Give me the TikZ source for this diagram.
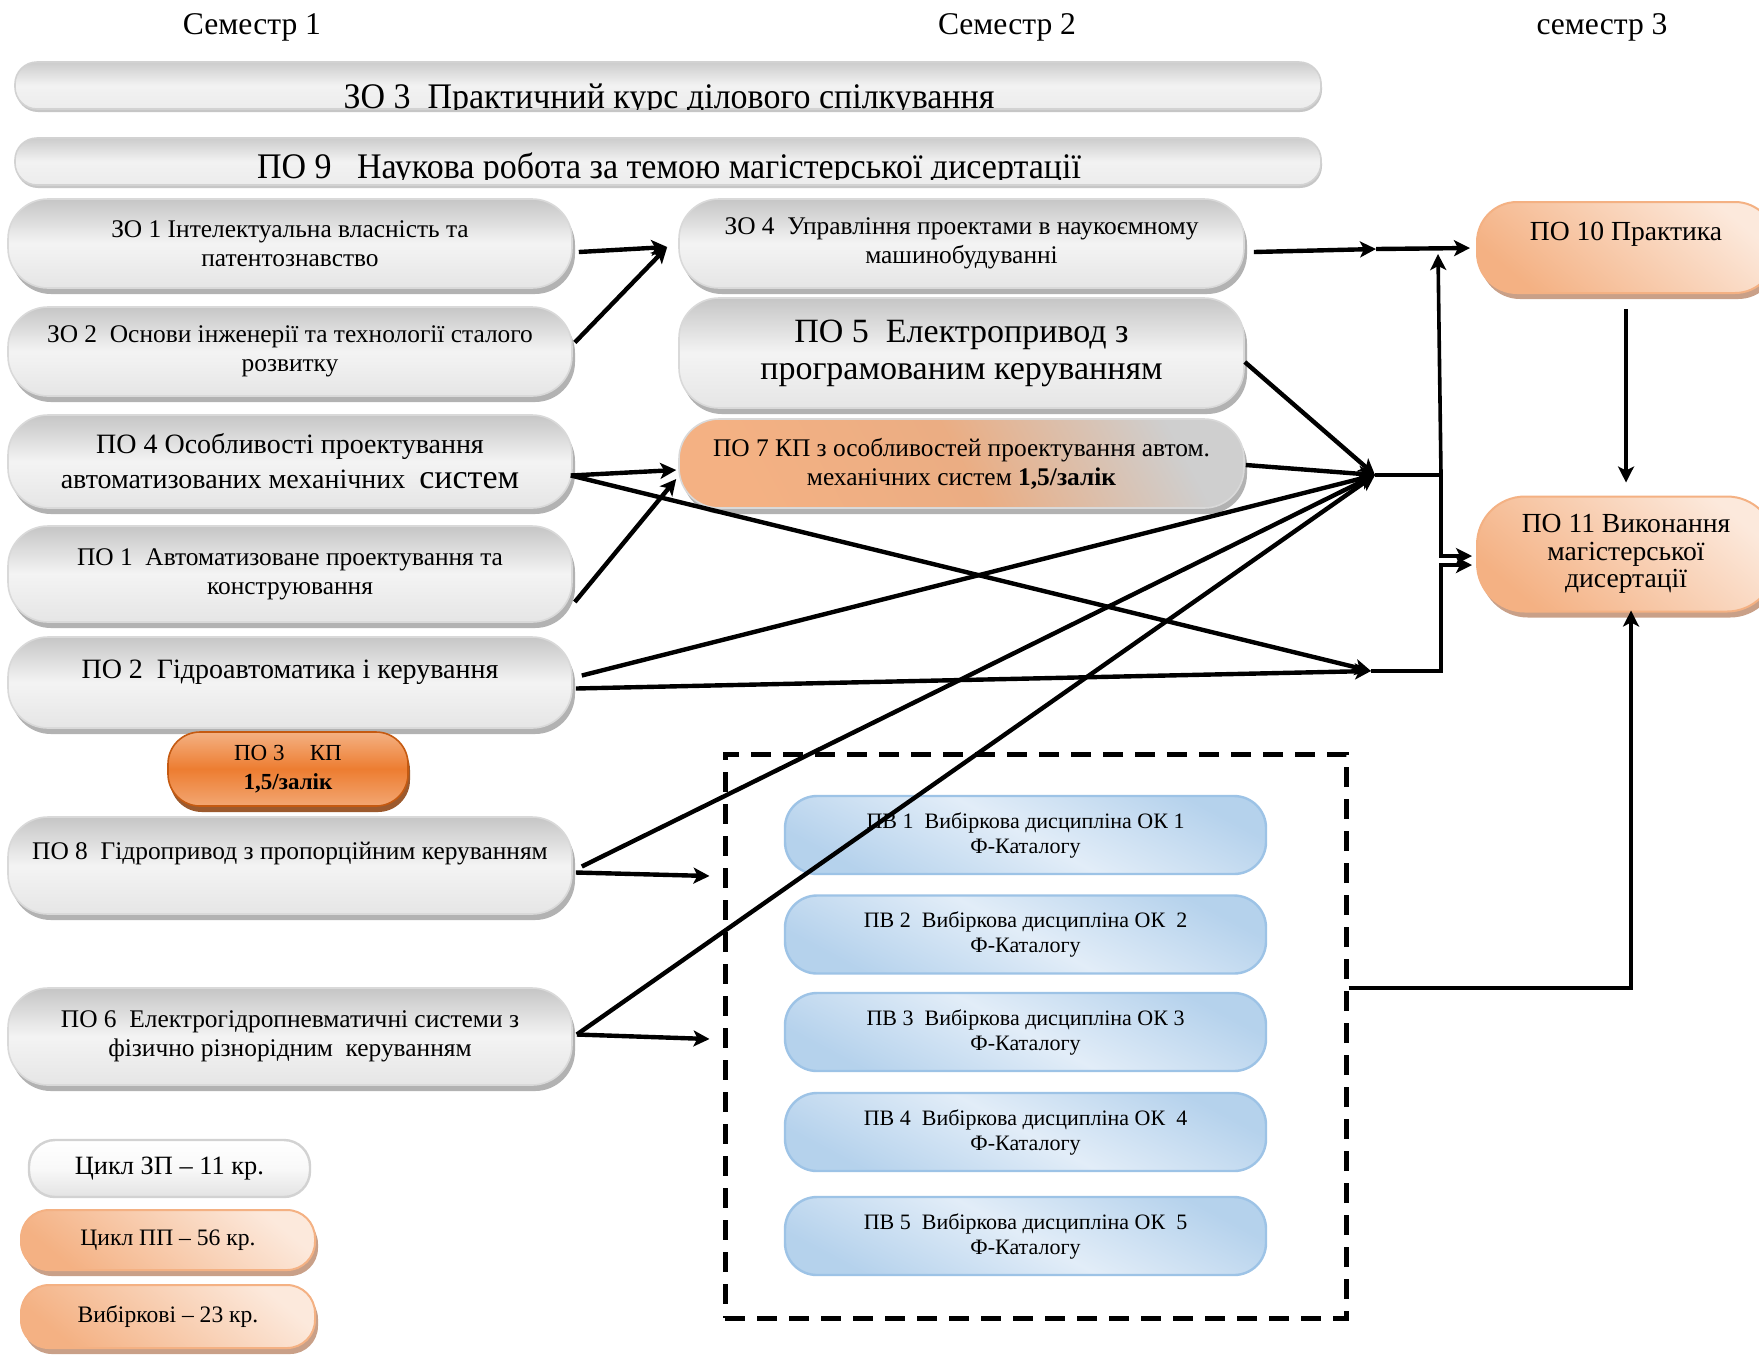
\documentclass[tikz,border=0pt]{standalone}
\usepackage{fontspec}
\setmainfont{Liberation Serif}
\newfontfamily\barfont[FakeStretch=0.944]{Liberation Serif}
\usetikzlibrary{shadows,arrows.meta,calc}
\newcommand\fsz[2]{\fontsize{#1}{#2}\selectfont}
\definecolor{orE}{HTML}{F4B183}
\definecolor{orL}{HTML}{FCE9DC}
\definecolor{orS}{HTML}{ED7D31}
\definecolor{orB}{HTML}{C55A11}
\definecolor{orD}{HTML}{9C5A2E}
\definecolor{blD}{HTML}{9DC3E6}
\definecolor{blL}{HTML}{E2EDF8}
\definecolor{shO}{HTML}{C9A088}
\begin{document}
\begin{tikzpicture}[x=0.5pt,y=-0.5pt,
  base/.style={inner sep=0pt, align=center, text=black},
  graybox/.style={base, rounded corners=20pt, draw=gray!30, line width=0.8pt,
     top color=gray!45, bottom color=gray!20, middle color=gray!9,
     drop shadow={shadow xshift=1.5pt, shadow yshift=-3pt, fill=gray!60, opacity=1}},
  barbox/.style={base, rounded corners=11pt, draw=gray!35, line width=0.8pt,
     top color=gray!40, bottom color=gray!15, middle color=gray!10,
     drop shadow={shadow xshift=0.5pt, shadow yshift=-1.5pt, fill=gray!45, opacity=1}},
  peach/.style={base, rounded corners=20pt, draw=orE, line width=1pt,
     top color=orL, bottom color=orE, shading angle=-40,
     drop shadow={shadow xshift=1.5pt, shadow yshift=-3pt, fill=shO, opacity=1}},
  po3box/.style={base, rounded corners=16pt, draw=orB, line width=0.8pt,
     top color=orE, bottom color=orE!80!orS, middle color=orS,
     drop shadow={shadow xshift=1pt, shadow yshift=-3pt, fill=orD, opacity=1}},
  po7box/.style={base, rounded corners=20pt, draw=gray!30, line width=0.8pt,
     top color=gray!38, bottom color=orE, middle color=orE!92!gray, shading angle=-62,
     drop shadow={shadow xshift=1.5pt, shadow yshift=-3pt, fill=gray!60, opacity=1}},
  bluebox/.style={base, rounded corners=16pt, draw=blD, line width=1.2pt,
     top color=blD!75!white, bottom color=blD!75!white, middle color=blL, shading angle=-28},
  lgw/.style={base, rounded corners=13pt, draw=gray!35, line width=1.2pt,
     top color=white, bottom color=gray!22, middle color=gray!5},
  hdr/.style={font=\fsz{15.8}{18}},
  fsA/.style={font=\fsz{12.7}{14.5}},
  fsB/.style={font=\fsz{14}{17.5}},
  fsC/.style={font=\fsz{11}{12.5}},
  fsD/.style={font=\fsz{13.8}{16}},
  fsL/.style={font=\fsz{11.8}{14}},
  arr/.style={line width=2.2pt, -{Stealth[length=8pt,width=8pt,inset=2pt]}},
  arrR/.style={line width=1.8pt, -{Stealth[length=8pt,width=8pt,inset=2pt]}}
]
\clip (0,0) rectangle (1759,1356);
\fill[white] (0,0) rectangle (1759,1356);

% headings
\node[hdr] (s1) at (252,27.5) {Семестр 1};
\node[hdr] (s2) at (1007,27.5) {Семестр 2};
\node[hdr] (s3) at (1602,27.5) {семестр 3};

% bars
\node[barbox, minimum width=653pt, minimum height=23.5pt] (zo3) at (668,85.5) {};
\node[barbox, minimum width=653pt, minimum height=23.5pt] (po9) at (668,161.5) {};
\begin{scope}
\clip[rounded corners=11pt] (zo3.north west) rectangle ($(zo3.south east)+(0,-0.5)$);
\node[anchor=base, font=\barfont\fsz{18}{20}] (zo3t) at (669,108) {ЗО 3\ \ Практичний курс ділового спілкування};
\end{scope}
\begin{scope}
\clip[rounded corners=11pt] (po9.north west) rectangle ($(po9.south east)+(0,-6.5)$);
\node[anchor=base, font=\barfont\fsz{18}{20}] (po9t) at (669,178) {ПО 9\ \ \ Наукова робота за темою магістерської дисертації};
\end{scope}

% left column
\node[graybox, minimum width=282pt, minimum height=44.5pt, fsA] (zo1) at (290,243.5) {ЗО 1 Інтелектуальна власність та\\патентознавство};
\node[graybox, minimum width=282pt, minimum height=44.5pt, fsA] (zo2) at (290,351.5) {ЗО 2\ \ Основи інженерії та технології сталого\\розвитку};
\node[graybox, minimum width=282pt, minimum height=46.5pt, fsB] (po4) at (290,461.5) {ПО 4 Особливості проектування\\автоматизованих механічних\ \ {\fsz{17}{17}систем}};
\node[graybox, minimum width=282pt, minimum height=48pt, fsA] (po1) at (290,574) {ПО 1\ \ Автоматизоване проектування та\\конструювання};
\node[graybox, minimum width=282pt, minimum height=45.5pt, fsB] (po2) at (290,682.5) {ПО 2\ \ Гідроавтоматика і керування\\[-4pt]\mbox{}};
\node[po3box, minimum width=120pt, minimum height=37pt, font=\fsz{11.5}{14.5}] (po3) at (288,769) {ПО 3\hspace{1.1em}КП\\\textbf{1,5/залік}};
\node[graybox, minimum width=282pt, minimum height=48.5pt, fsA] (po8) at (290,865.5) {ПО 8\ \ Гідропривод з пропорційним керуванням\\\mbox{}};
\node[graybox, minimum width=282pt, minimum height=48.5pt, fsA] (po6) at (290,1036.5) {ПО 6\ \ Електрогідропневматичні системи з\\фізично різнорідним\ \ керуванням};

% middle column
\node[graybox, minimum width=282.5pt, minimum height=44.5pt, fsA] (zo4) at (961.5,243.5) {ЗО 4\ \ Управління проектами в наукоємному\\машинобудуванні};
\node[graybox, minimum width=282.5pt, minimum height=55pt, font=\fsz{17}{18.5}] (po5) at (961.5,353) {ПО 5\ \ Електропривод з\\програмованим керуванням};
\node[po7box, minimum width=282.5pt, minimum height=44.5pt, fsA] (po7) at (961.5,463.5) {ПО 7 КП з особливостей проектування автом.\\механічних систем \textbf{1,5/залік}};

% elective group
\node[draw, line width=2.5pt, dash pattern=on 10pt off 6pt, minimum width=310.5pt, minimum height=282pt, inner sep=0pt] (grp) at (1035.5,1036) {};
\node[bluebox, minimum width=240.5pt, minimum height=39pt, fsC] (pv1) at (1025.5,835) {ПВ 1\ \ Вибіркова дисципліна ОК 1\\Ф-Каталогу};
\node[bluebox, minimum width=240.5pt, minimum height=39pt, fsC] (pv2) at (1025.5,934.5) {ПВ 2\ \ Вибіркова дисципліна ОК\ \ 2\\Ф-Каталогу};
\node[bluebox, minimum width=240.5pt, minimum height=39pt, fsC] (pv3) at (1025.5,1032) {ПВ 3\ \ Вибіркова дисципліна ОК 3\\Ф-Каталогу};
\node[bluebox, minimum width=240.5pt, minimum height=39pt, fsC] (pv4) at (1025.5,1132) {ПВ 4\ \ Вибіркова дисципліна ОК\ \ 4\\Ф-Каталогу};
\node[bluebox, minimum width=240.5pt, minimum height=39pt, fsC] (pv5) at (1025.5,1236) {ПВ 5\ \ Вибіркова дисципліна ОК\ \ 5\\Ф-Каталогу};

% right column
\node[peach, minimum width=149pt, minimum height=45.5pt, fsD] (po10) at (1626,247.5) {ПО 10 Практика\\\mbox{}};
\node[peach, rounded corners=24pt, minimum width=149pt, minimum height=57.5pt, font=\fsz{13.8}{13.8}] (po11) at (1626,554) {ПО 11 Виконання\\магістерської\\дисертації};

% legend
\node[lgw, minimum width=140.5pt, minimum height=28.5pt, font=\fsz{13.2}{14}] (lg1) at (169.5,1168.5) {Цикл ЗП – 11 кр.};
\node[peach, rounded corners=14pt, minimum width=147pt, minimum height=30pt, fsL] (lg2) at (168,1240) {Цикл ПП – 56 кр.};
\node[peach, rounded corners=14pt, minimum width=147pt, minimum height=31.5pt, fsL] (lg3) at (168,1316.5) {Вибіркові – 23 кр.};

% junctions and tips
\coordinate (t1) at ($(zo4.west)+(-11,3.5)$);
\coordinate (t2) at ($(po7.west)+(-2,6.5)$);
\coordinate (t3) at ($(po7.west)+(-2,15.5)$);
\coordinate (t4) at ($(grp.west)+(-13,-160)$);
\coordinate (t5) at ($(grp.west)+(-13,3)$);
\coordinate (t6) at ($(po10.west)+(-6,0.5)$);
\coordinate (t7) at ($(po11.west)+(-4,2)$);
\coordinate (t8) at ($(po11.west)+(-4,11)$);
\coordinate (g1) at ($(grp.east)+(0,-48)$);
\coordinate (A) at (1375,475);
\coordinate (B) at (1371,671);
\coordinate (C) at (1376,249);
\coordinate (D) at (1441,475);
\coordinate (E) at (1438,254);

% connectors
\draw[arr] ($(zo1.east)+(6,8.5)$) -- (t1);
\draw[arr] ($(zo2.east)+(2,-9)$) -- (t1);
\draw[arr] ($(po4.east)+(-2,14)$) -- (t2);
\draw[arr] ($(po1.east)+(2,28)$) -- (t3);
\draw[arr] ($(po4.east)+(-2,14)$) -- (B);
\draw[arr] ($(po2.east)+(9,-7)$) -- (A);
\draw[arr] ($(po2.east)+(3,6)$) -- (B);
\draw[arr] ($(po8.east)+(9,1)$) -- (A);
\draw[arr] ($(po8.east)+(3,7)$) -- (t4);
\draw[arr] ($(po6.east)+(4,-2)$) -- (A);
\draw[arr] ($(po6.east)+(4,-2)$) -- (t5);
\draw[arr] ($(po5.east)+(0,9)$) -- (A);
\draw[arr] ($(po7.east)+(1,1.5)$) -- (A);
\draw[arr] ($(zo4.east)+(9,8.5)$) -- (C);
\draw[arr] (C) -- (t6);
\draw[arrR] (A) -- (D) -- (D |- t7) -- (t7);
\draw[arrR] (B) -- (B -| D) -- (D |- t8) -- (t8);
\draw[arrR] (D) -- (E);
\draw[arrR] ($(po10.south)+(0,15)$) -- ($(po11.north)+(0,-13)$);
\draw[arrR] (g1) -| ($(po11.south)+(5,-2)$);
\end{tikzpicture}
\end{document}
